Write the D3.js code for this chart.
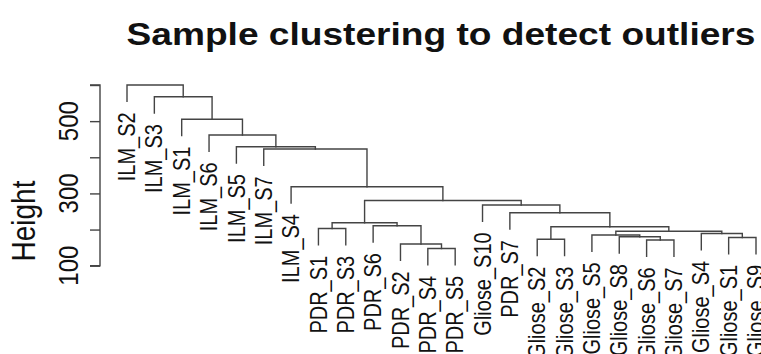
<!DOCTYPE html>
<html>
<head>
<meta charset="utf-8">
<script src="https://cdn.jsdelivr.net/npm/d3@7/dist/d3.min.js"></script>
<style>
  body { margin: 0; background: #fff; }
  text { font-family: "Liberation Sans", Arial, Helvetica, sans-serif; fill: #111; }
</style>
</head>
<body>
<svg id="chart" width="761" height="354"></svg>
<script>
// Sample dendrogram (hclust-style): leaf order, merge steps and merge heights.
const leafOrder = [
  "ILM_S2", "ILM_S3", "ILM_S1", "ILM_S6", "ILM_S5", "ILM_S7", "ILM_S4",
  "PDR_S1", "PDR_S3", "PDR_S6", "PDR_S2", "PDR_S4", "PDR_S5",
  "Gliose_S10", "PDR_S7",
  "Gliose_S2", "Gliose_S3", "Gliose_S5", "Gliose_S8", "Gliose_S6", "Gliose_S7",
  "Gliose_S4", "Gliose_S1", "Gliose_S9"
];
// Children of each merge: a string is a sample, a number is an earlier merge step (1-based).
const mergeLeft = [
  "Gliose_S6", "Gliose_S1", "PDR_S4", "Gliose_S2", "PDR_S2", "Gliose_S8", "Gliose_S4",
  "Gliose_S5", "PDR_S1", "PDR_S6", 8, 9, 4, "PDR_S7", "Gliose_S10", 12,
  "ILM_S4", "ILM_S7", "ILM_S5", "ILM_S6", "ILM_S1", "ILM_S3", "ILM_S2"
];
const mergeRight = [
  "Gliose_S7", "Gliose_S9", "PDR_S5", "Gliose_S3", 3, 1, 2,
  6, "PDR_S3", 5, 7, 10, 11, 13, 14, 15,
  16, 17, 18, 19, 20, 21, 22
];
const mergeHeight = [
  171.1, 178.0, 147.6, 173.0, 160.0, 180.0, 189.1,
  185.0, 202.9, 210.4, 195.5, 218.7, 207.9, 246.7, 268.0, 280.4,
  318.6, 422.9, 429.3, 461.6, 505.1, 567.6, 600.0
];
const tickValues = [100, 200, 300, 400, 500, 600];
const tickLabels = [100, 300, 500];

const titleText = "Sample clustering to detect outliers";
const yTitle = "Height";

const svg = d3.select("#chart");
const stretch = 1.16; // horizontal text aspect

const x = d3.scalePoint().domain(leafOrder).range([127, 756]);
const y = d3.scaleLinear().domain([100, 600]).range([265.7, 85]);

// leaves hang below their merge by a tenth of the height range
const hang = 0.1 * (d3.max(mergeHeight) - d3.min(mergeHeight));

const merges = mergeHeight.map((h, i) => ({ left: mergeLeft[i], right: mergeRight[i], h }));
function xOf(node) {
  return typeof node === "number" ? merges[node - 1].x : x(node);
}
merges.forEach(m => { m.x = (xOf(m.left) + xOf(m.right)) / 2; });

const lineColor = "#444";
const g = svg.append("g")
  .attr("fill", "none")
  .attr("stroke", lineColor)
  .attr("stroke-width", 1.4)
  .attr("stroke-linecap", "square");

const leaves = [];
merges.forEach(m => {
  const path = d3.path();
  const xl = xOf(m.left), xr = xOf(m.right);
  const bottomOf = node => typeof node === "number" ? y(merges[node - 1].h) : y(m.h - hang);
  path.moveTo(xl, bottomOf(m.left));
  path.lineTo(xl, y(m.h));
  path.lineTo(xr, y(m.h));
  path.lineTo(xr, bottomOf(m.right));
  g.append("path").attr("d", path.toString());
  [m.left, m.right].forEach(c => {
    if (typeof c !== "number") leaves.push({ name: c, x: x(c), y: y(m.h - hang) });
  });
});

// Sample labels hanging below each leaf
svg.append("g").selectAll("text")
  .data(leaves)
  .join("text")
  .attr("transform", d => `translate(${d.x},${d.y + 11}) scale(${stretch},1) rotate(-90)`)
  .attr("text-anchor", "end")
  .attr("dy", "0.35em")
  .attr("font-size", 20)
  .text(d => d.name);

// Y axis
const axis = svg.append("g")
  .attr("transform", "translate(100,0)")
  .call(d3.axisLeft(y).tickValues(tickValues).tickSize(10).tickFormat(""));
axis.select(".domain").attr("stroke", lineColor).attr("stroke-width", 1.4)
  .attr("d", `M-10,${y(600)}H0V${y(100)}H-10`);
axis.selectAll(".tick line").attr("stroke", lineColor).attr("stroke-width", 1.4);

svg.append("g").selectAll("text")
  .data(tickLabels)
  .join("text")
  .attr("transform", d => `translate(68,${y(d)}) scale(${stretch},1) rotate(-90)`)
  .attr("text-anchor", "middle")
  .attr("dy", "0.35em")
  .attr("font-size", 24)
  .text(d => d);

svg.append("text")
  .attr("transform", `translate(24,221) scale(${stretch},1) rotate(-90)`)
  .attr("text-anchor", "middle")
  .attr("dy", "0.35em")
  .attr("font-size", 28)
  .text(yTitle);

svg.append("text")
  .attr("transform", `translate(441,45) scale(${stretch},1)`)
  .attr("text-anchor", "middle")
  .attr("font-size", 32)
  .attr("font-weight", "bold")
  .text(titleText);
</script>
</body>
</html>
